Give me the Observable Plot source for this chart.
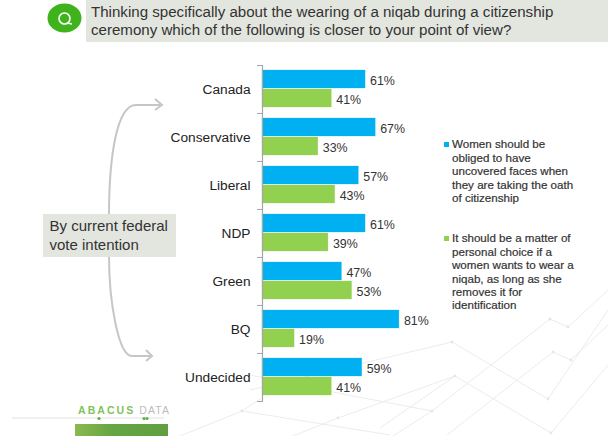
<!DOCTYPE html>
<html>
<head>
<meta charset="utf-8">
<script src="https://cdn.jsdelivr.net/npm/d3@7"></script>
<script src="https://cdn.jsdelivr.net/npm/@observablehq/plot@0.6"></script>
<style>
  html, body { margin: 0; padding: 0; background: #fff; }
  #page { position: relative; width: 608px; height: 436px; overflow: hidden; font-family: "Liberation Sans", Arial, sans-serif; color: #333; }
  #page > * { position: absolute; }
  #deco { left: 0; top: 0; }
  #chart { left: 0; top: 0; }
  #question { left: 86px; top: 0; width: 522px; height: 42px; background: #e3e6df; box-sizing: border-box; padding: 3px 0 0 5px; font-size: 15.1px; line-height: 18px; white-space: pre; color: #333; }
  #group { left: 43px; top: 214px; width: 133px; height: 43px; background: #e3e6df; box-sizing: border-box; padding: 3px 0 0 6.5px; font-size: 15px; line-height: 18.5px; white-space: pre; color: #333; }
  .legend { left: 452px; font-size: 11.6px; line-height: 13.45px; white-space: pre; color: #333; -webkit-text-stroke: 0.2px #333; }
  .swatch { width: 5px; height: 5px; left: 443.5px; }
  #abacus { left: 78px; top: 403.5px; font-size: 10.5px; line-height: 12px; font-weight: bold; letter-spacing: 2.05px; color: #7fc35c; white-space: pre; }
  #abacus span { font-weight: normal; color: #bdbdbd; letter-spacing: 1.1px; }
</style>
</head>
<body>
<div id="page">
  <svg id="deco" width="608" height="436"></svg>
  <div id="chart"></div>
  <div id="question"></div>
  <div id="group"></div>
  <div id="abacus">ABACUS<span> DATA</span></div>
</div>
<script>
// Survey results by current federal vote intention (percent)
const parties = ["Canada", "Conservative", "Liberal", "NDP", "Green", "BQ", "Undecided"];
const uncovered = [61, 67, 57, 61, 47, 81, 59];
const personalChoice = [41, 33, 43, 39, 53, 19, 41];

const optionNames = ["Uncovered faces", "Personal choice"];
const optionColors = ["#00b0f0", "#92d050"];

const questionText = "Thinking specifically about the wearing of a niqab during a citizenship\nceremony which of the following is closer to your point of view?";
const groupText = "By current federal\nvote intention";
const legendTexts = [
  "Women should be\nobliged to have\nuncovered faces when\nthey are taking the oath\nof citizenship",
  "It should be a matter of\npersonal choice if a\nwomen wants to wear a\nniqab, as long as she\nremoves it for\nidentification"
];

const rows = parties.flatMap((party, i) => [
  {party, option: optionNames[0], value: uncovered[i]},
  {party, option: optionNames[1], value: personalChoice[i]}
]);

const tickColor = "#a6a6a6";

const chart = Plot.plot({
  width: 608,
  height: 436,
  marginTop: 65,
  marginBottom: 35,
  marginLeft: 262,
  marginRight: 177,
  style: {background: "transparent", fontFamily: "'Liberation Sans', Arial, sans-serif"},
  x: {domain: [0, 100], axis: null},
  y: {domain: optionNames, axis: null, paddingInner: 0.05, paddingOuter: 0.25},
  fy: {domain: parties, padding: 0, axis: null},
  color: {domain: optionNames, range: optionColors},
  marks: [
    Plot.barX(rows, {fy: "party", y: "option", x: "value", fill: "option", stroke: "option", strokeOpacity: 0.25}),
    Plot.ruleX([0], {stroke: tickColor, strokeWidth: 1.2}),
    // short separators between the party groups, left of the baseline
    Plot.frame({anchor: "top", stroke: tickColor, insetLeft: -5, insetRight: 169}),
    Plot.frame({anchor: "bottom", stroke: tickColor, insetLeft: -5, insetRight: 169}),
    Plot.text(rows, {fy: "party", y: "option", x: "value", text: d => `${d.value}%`, dx: 4.5, dy: 1.5, textAnchor: "start", fontSize: 12.4, fill: "#333"}),
    Plot.text(parties, {fy: d => d, text: d => d, frameAnchor: "right", dx: -181, dy: 0.5, textAnchor: "end", fontSize: 13.7, fill: "#222"})
  ]
});
document.getElementById("chart").append(chart);

document.getElementById("question").textContent = questionText;
document.getElementById("group").textContent = groupText;

// Legend entries beside the bars
const page = document.getElementById("page");
[[137.2, 141.7], [231.2, 235.7]].forEach(([textTop, swatchTop], i) => {
  const t = document.createElement("div");
  t.className = "legend";
  t.style.top = textTop + "px";
  t.textContent = legendTexts[i];
  page.append(t);
  const s = document.createElement("div");
  s.className = "swatch";
  s.style.top = swatchTop + "px";
  s.style.background = optionColors[i];
  page.append(s);
});

// Decoration: faint network backdrop, bracket arrows, question badge, logo
const svg = d3.select("#deco");
const net = svg.append("g").attr("fill", "none").attr("stroke", "#ececec").attr("stroke-width", 1);
[
  "M432 411L550 319L568 327L608 290",
  "M393 436L432 411L358 397L250 375",
  "M553 352L571 360L608 325",
  "M447 435L553 352",
  "M250 390L452 342L548 399L608 310",
  "M293 436L338 418L455 376L551 433L608 365",
  "M380 428L455 376",
  "M180 436L242 411L390 435",
  "M242 411L262 398"
].forEach(d => net.append("path").attr("d", d));
[[550, 319], [568, 327], [553, 352], [571, 360], [452, 342], [548, 399], [455, 376], [551, 433], [432, 411], [338, 418], [242, 411]]
  .forEach(([x, y]) => net.append("circle").attr("cx", x).attr("cy", y).attr("r", 1.4).attr("fill", "#e6e6e6").attr("stroke", "none"));

const arrows = svg.append("g").attr("fill", "none").attr("stroke", "#c6c6c6").attr("stroke-width", 2);
arrows.append("path").attr("d", "M109 216C109 160 116 105 136 105L160 105");
arrows.append("path").attr("d", "M155 99L162 105L155 110");
arrows.append("path").attr("d", "M109 256C109 300 118 356 132 356L150 356");
arrows.append("path").attr("d", "M146 350L152 356L146 361");

svg.append("ellipse").attr("cx", 64.5).attr("cy", 18).attr("rx", 17).attr("ry", 14.5).attr("fill", "#3fb31b");
svg.append("circle").attr("cx", 64.5).attr("cy", 18.5).attr("r", 5.5).attr("fill", "none").attr("stroke", "#fff").attr("stroke-width", 1.6);
svg.append("path").attr("d", "M67 23L72 24").attr("stroke", "#fff").attr("stroke-width", 1.4);

svg.append("path").attr("d", "M12 418H164").attr("stroke", "#e2e2e2").attr("stroke-width", 1);
[99, 144, 147].forEach(x => svg.append("circle").attr("cx", x).attr("cy", 418.5).attr("r", 1.6).attr("fill", "#5fb04a"));

const grad = svg.append("linearGradient").attr("id", "logoFill");
grad.append("stop").attr("offset", "0").attr("stop-color", "#8cb850");
grad.append("stop").attr("offset", "0.4").attr("stop-color", "#66a544");
grad.append("stop").attr("offset", "1").attr("stop-color", "#5f9f40");
svg.append("rect").attr("x", 75).attr("y", 424).attr("width", 93).attr("height", 12).attr("fill", "url(#logoFill)");
</script>
</body>
</html>
